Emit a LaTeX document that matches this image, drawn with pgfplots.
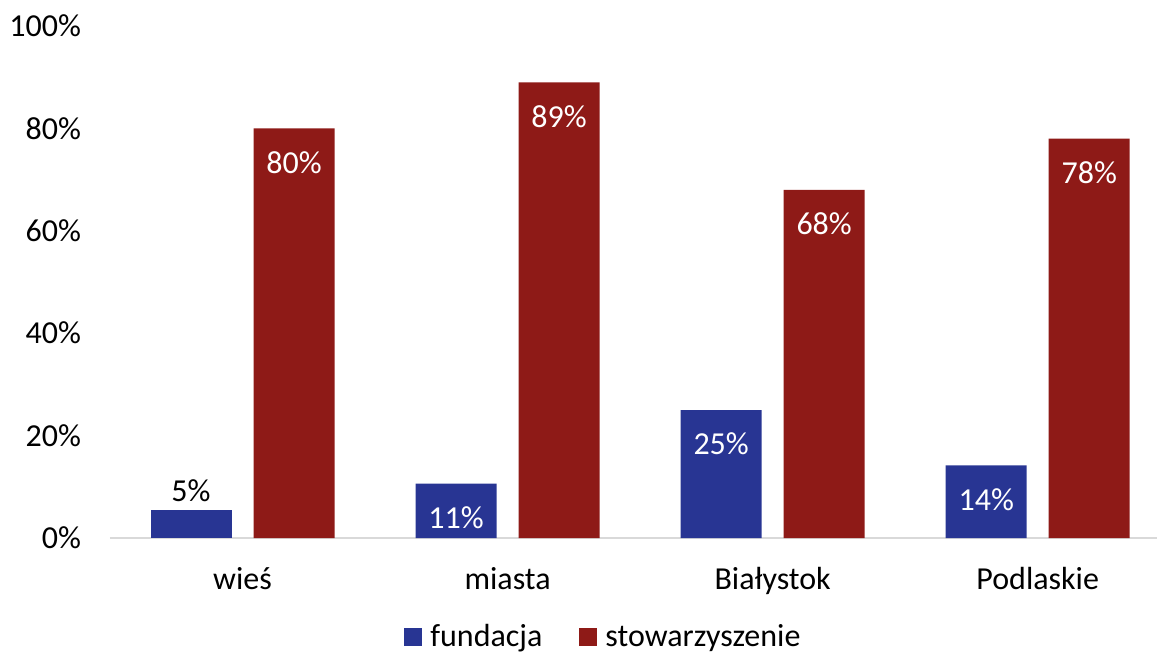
\documentclass[border=0pt]{standalone}
\usepackage{fontspec}
\setmainfont{Carlito}
\usepackage{pgfplots}
\pgfplotsset{compat=1.18}
\definecolor{cblue}{HTML}{283593}
\definecolor{cred}{HTML}{8E1A17}
\definecolor{cgrid}{HTML}{D9D9D9}
\begin{document}
\begin{tikzpicture}
\begin{axis}[
  name=ax,
  scale only axis,
  width=523.5pt, height=256pt,
  xmin=-0.5, xmax=3.45,
  ymin=0, ymax=100,
  font=\fontsize{16}{19}\selectfont,
  /pgf/number format/assume math mode=true,
  xtick={0,1,2,3},
  xticklabels={wieś,miasta,Białystok,Podlaskie},
  ytick={0,20,40,60,80,100},
  yticklabel={\pgfmathprintnumber{\tick}\%},
  major tick length=0pt,
  axis x line*=bottom,
  axis y line*=left,
  x axis line style={-, draw=cgrid, line width=0.8pt},
  y axis line style={draw=none},
  yticklabel style={xshift=-11pt},
  xticklabel style={yshift=-11pt},
  ybar,
  bar width=40.5pt,
  legend style={at={(axis description cs:0.2808,-0.193)}, anchor=west,
    draw=none, fill=none, inner sep=0pt,
    legend columns=2,
    nodes={inner sep=0pt},
    /tikz/every odd column/.append style={column sep=4pt},
    /tikz/every even column/.append style={column sep=18.5pt}},
  legend image code/.code={\fill[#1] (0pt,-4.5pt) rectangle (9pt,4.5pt);},
]
\addplot[fill=cblue, draw=none, bar shift=-25.75pt,
  nodes near coords={\pgfmathprintnumber[fixed,precision=0]{\pgfplotspointmeta}\%},
  every node near coord/.append style={black, anchor=south, yshift=1pt}]
  coordinates {(0,5.4)};
\addlegendentry{fundacja}
\addplot[fill=cred, draw=none, bar shift=25.75pt,
  nodes near coords={\pgfmathprintnumber[fixed,precision=0]{\pgfplotspointmeta}\%},
  every node near coord/.append style={white, anchor=north, yshift=-8pt}]
  coordinates {(0,80) (1,89) (2,68) (3,78)};
\addlegendentry{stowarzyszenie}
\addplot[fill=cblue, draw=none, bar shift=-25.75pt, forget plot,
  nodes near coords={\pgfmathprintnumber[fixed,precision=0]{\pgfplotspointmeta}\%},
  every node near coord/.append style={white, anchor=north, yshift=-8pt}]
  coordinates {(1,10.6) (2,25) (3,14.2)};
\end{axis}
\pgfresetboundingbox
\path[use as bounding box] ([xshift=-55pt,yshift=-58.5pt]ax.south west) rectangle ([yshift=13pt]ax.north east);
\end{tikzpicture}
\end{document}
